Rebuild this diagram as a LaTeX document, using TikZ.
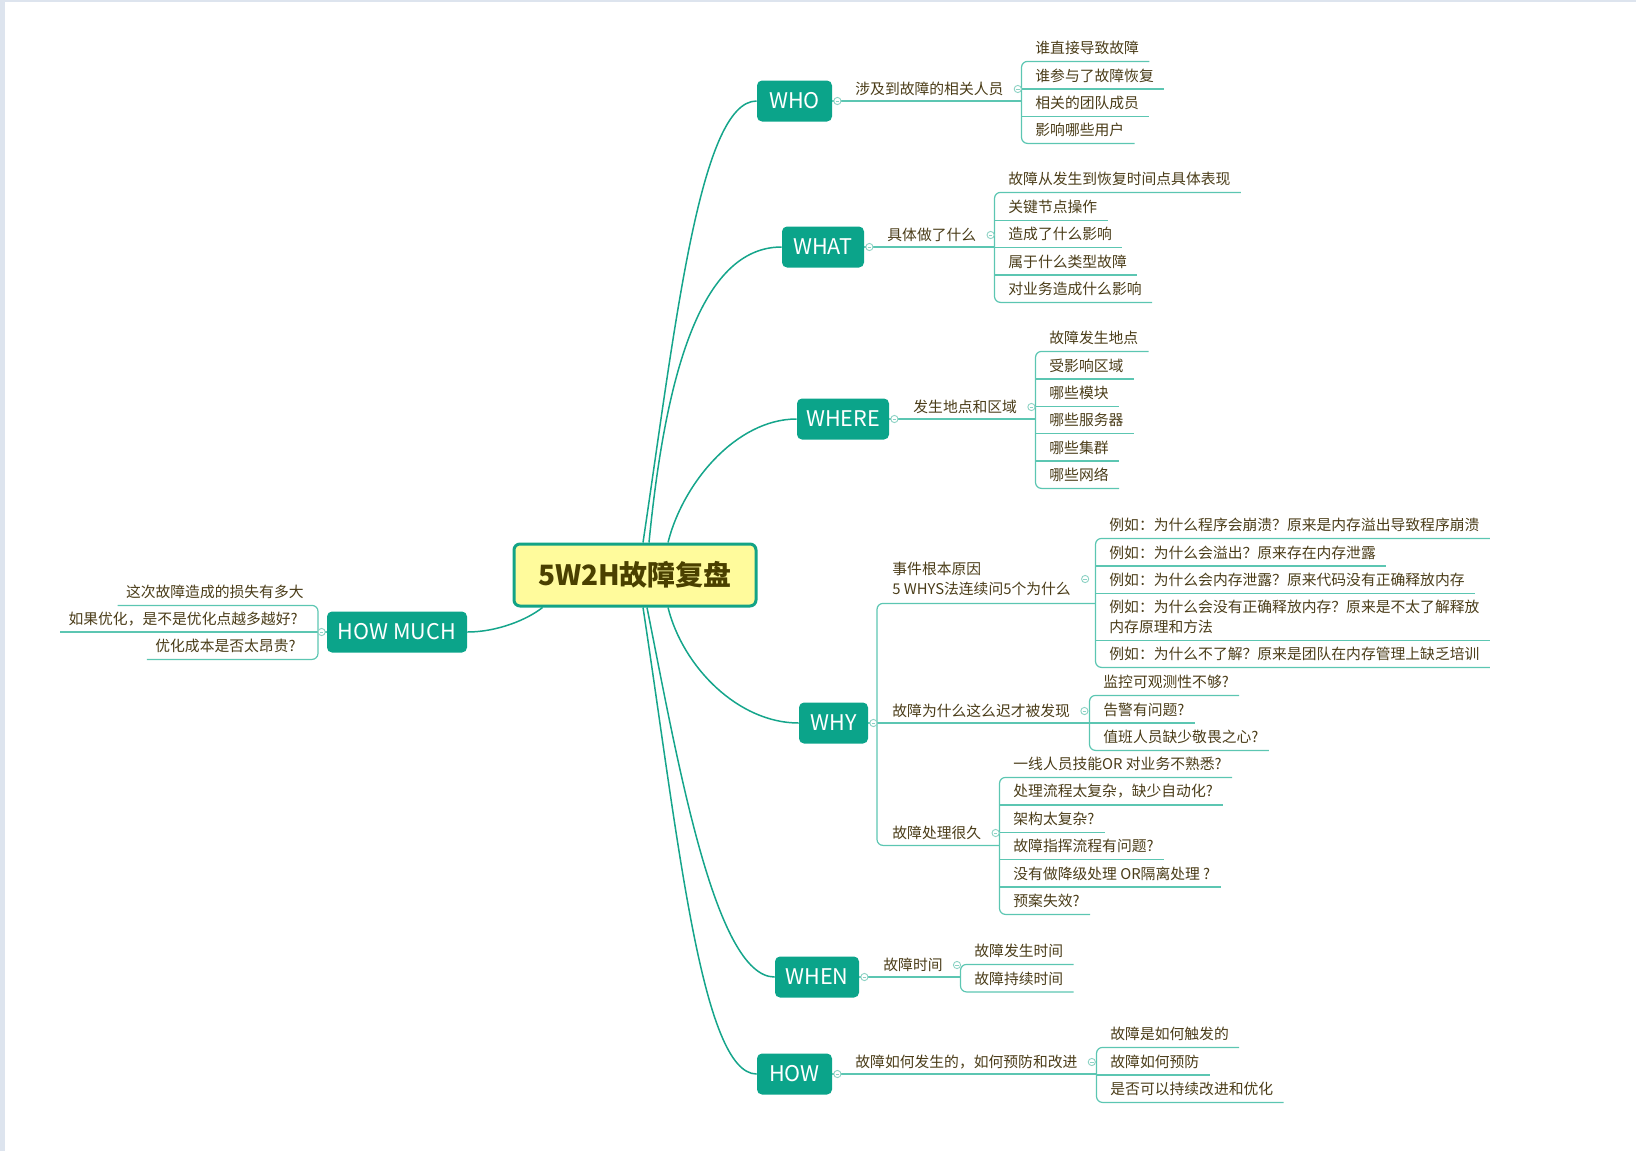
\documentclass[tikz,border=0pt]{standalone}
\usepackage{fontspec}
\setmainfont{Noto Sans CJK SC}
\usetikzlibrary{calc,backgrounds}
\definecolor{tealbox}{HTML}{0BA48A}
\definecolor{curvec}{HTML}{15A58B}
\definecolor{subline}{HTML}{5CC6B2}
\definecolor{txt}{HTML}{4A3C18}
\definecolor{rootfill}{HTML}{FFFB9C}
\definecolor{rootborder}{HTML}{13A386}
\definecolor{roottext}{HTML}{4A4000}
\definecolor{strip}{HTML}{DDE4EE}
\definecolor{knob}{HTML}{8CD2C4}
\newcommand\mybr[2]{\draw[sub,rounded corners=3pt] ([xshift=5pt]#1.south east) -- ($(#1.south west)+(-6.75pt,0)$) -- ($(#2.south west)+(-6.75pt,0)$) -- ([xshift=5pt]#2.south east);}
\newcommand\mymid[1]{\draw[sub] ($(#1.south west)+(-6.75pt,0)$) -- ([xshift=5pt]#1.south east);}
\begin{document}
\begin{tikzpicture}[x=0.5pt,y=-0.5pt,
 root/.style={draw=rootborder,line width=1.5pt,fill=rootfill,rounded corners=3pt,minimum width=121pt,minimum height=31pt,inner sep=0pt,text=roottext,font=\fontsize{14}{16}\selectfont\bfseries},
 branch/.style={fill=tealbox,rounded corners=2.5pt,minimum height=20.5pt,inner sep=0pt,text=white,font=\fontsize{10.8}{12}\selectfont},
 leaf/.style={anchor=west,inner sep=0pt,minimum height=13pt,text=txt,font=\fontsize{7.4}{10}\selectfont,align=left},
 subt/.style={anchor=west,inner sep=0pt,minimum height=12pt,text=txt,font=\fontsize{7.4}{10}\selectfont,align=left},
 curve/.style={draw=curvec,line width=0.75pt},
 sub/.style={draw=subline,line width=0.6pt},
 knobst/.style={circle,draw=knob,fill=white,line width=0.45pt,minimum size=3.6pt,inner sep=0pt,
   path picture={\draw[knob,line width=0.4pt] ([xshift=-0.9pt]path picture bounding box.center) -- ([xshift=0.9pt]path picture bounding box.center);}},
]
\useasboundingbox (0,0) rectangle (1636,1151);

% root and branches
\node[root] (root) at (635,575) {5W2H故障复盘};
\node[branch,minimum width=37.5pt] (who) at (794.5,101) {WHO};
\node[branch,minimum width=41pt] (what) at (823,247) {WHAT};
\node[branch,minimum width=46pt] (where) at (843,419) {WHERE};
\node[branch,minimum width=34.5pt] (why) at (833.5,723) {WHY};
\node[branch,minimum width=42pt] (when) at (817,977) {WHEN};
\node[branch,minimum width=37.5pt] (how) at (794.5,1074) {HOW};
\node[branch,minimum width=70pt] (hm) at (397,632) {HOW MUCH};

\begin{scope}[on background layer]
\fill[strip] (0,0) rectangle (5,1151);
\fill[strip] (0,0) rectangle (1636,1.5);
\draw[curve] ([xshift=4pt]root.north) .. controls +(32,-214) and +(-57,0) .. (who.west);
\draw[curve] ([xshift=7pt]root.north) .. controls +(16,-164) and +(-82,0) .. (what.west);
\draw[curve] ([xshift=16.5pt]root.north) .. controls +(15,-60) and +(-60,0) .. (where.west);
\draw[curve] ([xshift=16.5pt]root.south) .. controls +(15,60) and +(-60,0) .. (why.west);
\draw[curve] ([xshift=6pt]root.south) .. controls +(30,150) and +(-60,0) .. (when.west);
\draw[curve] ([xshift=4pt]root.south) .. controls +(35,230) and +(-55,0) .. (how.west);
\draw[curve] ([xshift=15pt]root.south west) .. controls +(-15,12) and +(30,0) .. (hm.east);
\end{scope}

% WHO
\node[subt] (whos) at (855,89) {涉及到故障的相关人员};
\node[leaf] (who1) at (1035,48) {谁直接导致故障};
\node[leaf] (who2) at (1035,75.5) {谁参与了故障恢复};
\node[leaf] (who3) at (1035,103) {相关的团队成员};
\node[leaf] (who4) at (1035,130) {影响哪些用户};
\draw[sub] (who.east) -- ($(who1.south west |- who.east)+(-6.75pt,0)$);
\mybr{who1}{who4}\mymid{who2}\mymid{who3}

% WHAT
\node[subt] (whats) at (887,235) {具体做了什么};
\node[leaf] (what1) at (1008,179) {故障从发生到恢复时间点具体表现};
\node[leaf] (what2) at (1008,207) {关键节点操作};
\node[leaf] (what3) at (1008,234) {造成了什么影响};
\node[leaf] (what4) at (1008,261.5) {属于什么类型故障};
\node[leaf] (what5) at (1008,289) {对业务造成什么影响};
\draw[sub] (what.east) -- ($(what1.south west |- what.east)+(-6.75pt,0)$);
\mybr{what1}{what5}\mymid{what2}\mymid{what3}\mymid{what4}

% WHERE
\node[subt] (wheres) at (913,407) {发生地点和区域};
\node[leaf] (where1) at (1049,338) {故障发生地点};
\node[leaf] (where2) at (1049,365.5) {受影响区域};
\node[leaf] (where3) at (1049,393) {哪些模块};
\node[leaf] (where4) at (1049,420) {哪些服务器};
\node[leaf] (where5) at (1049,447.5) {哪些集群};
\node[leaf] (where6) at (1049,475) {哪些网络};
\draw[sub] (where.east) -- ($(where1.south west |- where.east)+(-6.75pt,0)$);
\mybr{where1}{where6}\mymid{where2}\mymid{where3}\mymid{where4}\mymid{where5}

% WHY
\node[subt,minimum height=24pt] (whya) at (892,579) {事件根本原因\\5 WHYS法连续问5个为什么};
\node[subt] (whyb) at (892,711) {故障为什么这么迟才被发现};
\node[subt] (whyc) at (892,833) {故障处理很久};
\node[leaf] (whya1) at (1109,525) {例如：为什么程序会崩溃？原来是内存溢出导致程序崩溃};
\node[leaf] (whya2) at (1109,552.5) {例如：为什么会溢出？原来存在内存泄露};
\node[leaf] (whya3) at (1109,580) {例如：为什么会内存泄露？原来代码没有正确释放内存};
\node[leaf,minimum height=23pt] (whya4) at (1109,617) {例如：为什么会没有正确释放内存？原来是不太了解释放\\内存原理和方法};
\node[leaf] (whya5) at (1109,654) {例如：为什么不了解？原来是团队在内存管理上缺乏培训};
\node[leaf] (whyb1) at (1103,682) {监控可观测性不够?};
\node[leaf] (whyb2) at (1103,709.5) {告警有问题?};
\node[leaf] (whyb3) at (1103,737) {值班人员缺少敬畏之心?};
\node[leaf] (whyc1) at (1013,764) {一线人员技能OR 对业务不熟悉?};
\node[leaf] (whyc2) at (1013,791.5) {处理流程太复杂，缺少自动化?};
\node[leaf] (whyc3) at (1013,819) {架构太复杂?};
\node[leaf] (whyc4) at (1013,846) {故障指挥流程有问题?};
\node[leaf] (whyc5) at (1013,873.5) {没有做降级处理 OR隔离处理 ?};
\node[leaf] (whyc6) at (1013,901) {预案失效?};
\draw[sub,rounded corners=3pt] ($(whya1.south west |- whya.south)+(-6.75pt,0)$) -- ($(whya.south west)+(-7.5pt,0)$) -- ($(whyc.south west)+(-7.5pt,0)$) -- ($(whyc1.south west |- whyc.south)+(-6.75pt,0)$);
\draw[sub] (why.east) -- ($(whyb1.south west |- why.east)+(-6.75pt,0)$);
\mybr{whya1}{whya5}\mymid{whya2}\mymid{whya3}\mymid{whya4}
\mybr{whyb1}{whyb3}\mymid{whyb2}
\mybr{whyc1}{whyc6}\mymid{whyc2}\mymid{whyc3}\mymid{whyc4}\mymid{whyc5}

% WHEN
\node[subt] (whens) at (883,965) {故障时间};
\node[leaf] (when1) at (974,951) {故障发生时间};
\node[leaf] (when2) at (974,978.5) {故障持续时间};
\draw[sub] (when.east) -- ($(when1.south west |- when.east)+(-6.75pt,0)$);
\mybr{when1}{when2}

% HOW
\node[subt] (hows) at (855,1062) {故障如何发生的，如何预防和改进};
\node[leaf] (how1) at (1110,1034) {故障是如何触发的};
\node[leaf] (how2) at (1110,1061.5) {故障如何预防};
\node[leaf] (how3) at (1110,1089) {是否可以持续改进和优化};
\draw[sub] (how.east) -- ($(how1.south west |- how.east)+(-6.75pt,0)$);
\mybr{how1}{how3}\mymid{how2}

% HOW MUCH
\node[leaf,anchor=east] (hm1) at (304,592) {这次故障造成的损失有多大};
\node[leaf,anchor=east] (hm2) at (298,619) {如果优化，是不是优化点越多越好?};
\node[leaf,anchor=east] (hm3) at (296,646) {优化成本是否太昂贵?};
\draw[sub,rounded corners=3pt] ([xshift=-4pt]hm1.south west) -- ($(hm1.south east)+(7pt,0)$) -- ($(hm3.south east)+(11pt,0)$) -- ([xshift=-4pt]hm3.south west);
\draw[sub] (hm.west) -- ([xshift=-4pt]hm2.south west |- hm.west);

% collapse knobs
\foreach \b in {who,what,where,why,when,how} {\node[knobst] at ([xshift=2.5pt]\b.east) {};}
\node[knobst] at ([xshift=-2.5pt]hm.west) {};
\foreach \s in {whos,whats,wheres,whya,whyb,whyc,whens,hows} {\node[knobst] at ([xshift=7pt]\s.east) {};}
\end{tikzpicture}
\end{document}
